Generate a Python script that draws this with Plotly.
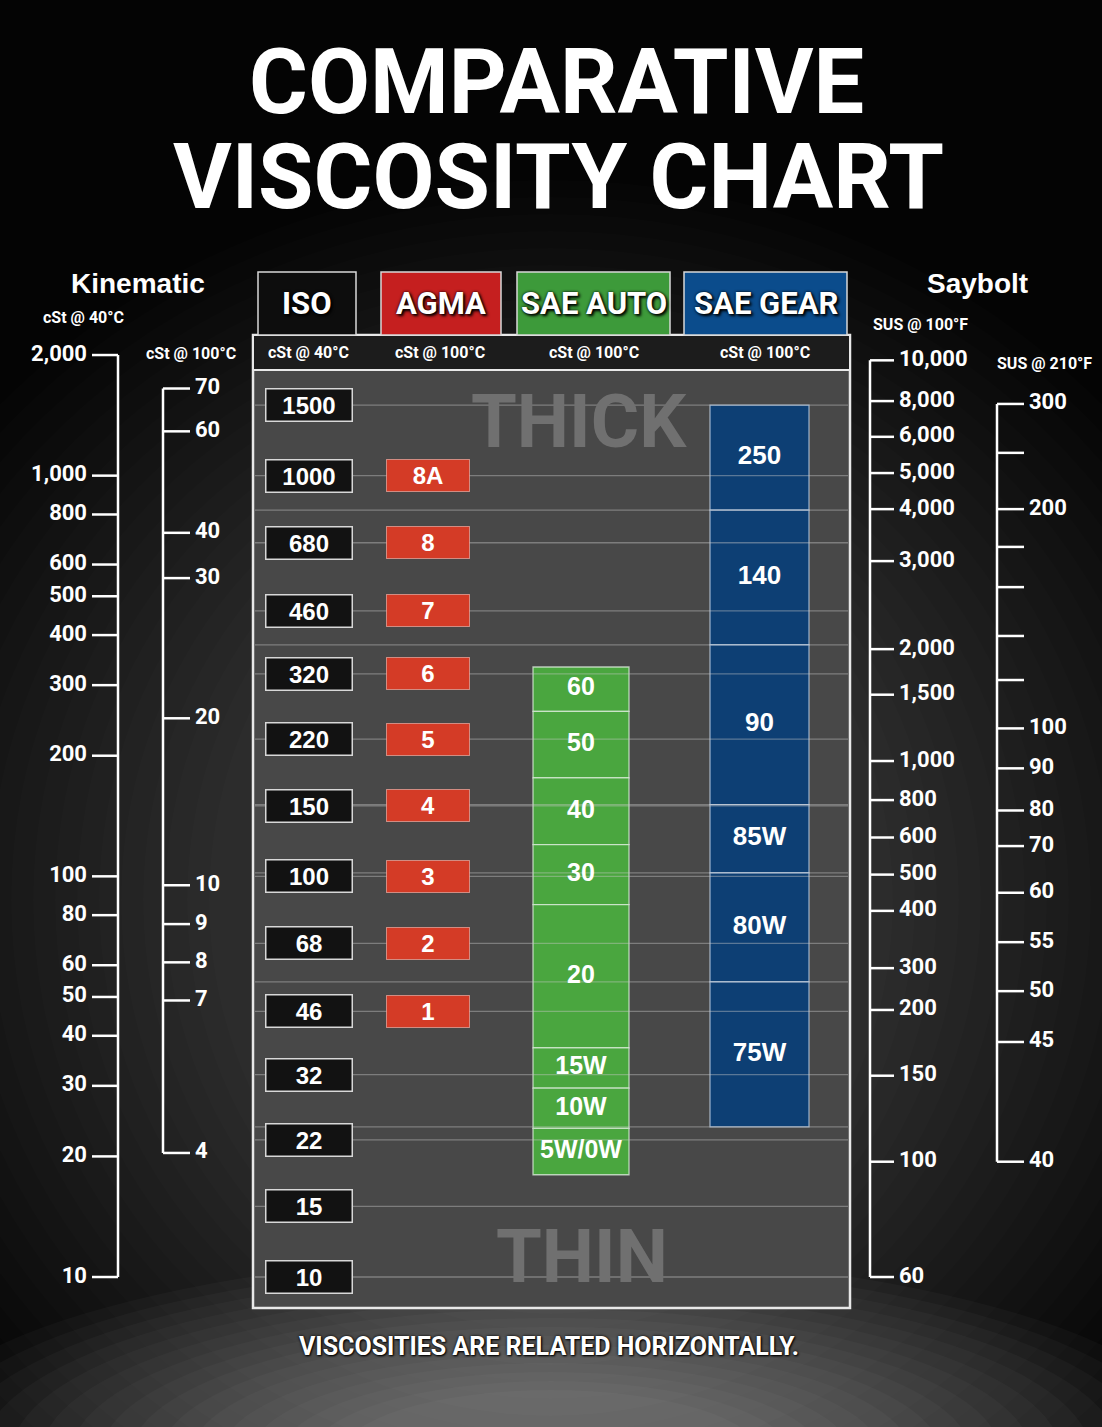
import numpy as np
import plotly.graph_objects as go

W, H = 1102, 1427

# ---------------- data ----------------
# ISO grades, cSt @ 40°C
iso_grades = [1500, 1000, 680, 460, 320, 220, 150, 100, 68, 46, 32, 22, 15, 10]

# AGMA grades and the ISO viscosity each is aligned with
agma_grades = ["8A", "8", "7", "6", "5", "4", "3", "2", "1"]
agma_iso_equiv = [1000, 680, 460, 320, 220, 150, 100, 68, 46]

# SAE engine (auto) grade ranges, as equivalent cSt @ 40°C
sae_auto_grades = ["60", "50", "40", "30", "20", "15W", "10W", "5W/0W"]
sae_auto_top = [333, 258, 176, 120, 85, 37.3, 29.6, 23.5]
sae_auto_bottom = [258, 176, 120, 85, 37.3, 29.6, 23.5, 18.0]

# SAE gear grade ranges, as equivalent cSt @ 40°C
sae_gear_grades = ["250", "140", "90", "85W", "80W", "75W"]
sae_gear_top = [1500, 820, 378, 151, 102, 54.5]
sae_gear_bottom = [820, 378, 151, 102, 54.5, 23.7]

# Kinematic scale cSt @ 40°C
kin40_ticks = [2000, 1000, 800, 600, 500, 400, 300, 200, 100, 80, 60, 50, 40, 30, 20, 10]
kin40_labels = ["2,000", "1,000", "800", "600", "500", "400", "300", "200",
                "100", "80", "60", "50", "40", "30", "20", "10"]

# Kinematic scale cSt @ 100°C (with equivalent cSt @ 40°C)
kin100_labels = ["70", "60", "40", "30", "20", "10", "9", "8", "7", "4"]
kin100_equiv = [1650, 1290, 720, 555, 248, 95, 76, 61, 49, 20.4]

# Saybolt SUS @ 100°F (with equivalent cSt @ 40°C)
sus100_labels = ["10,000", "8,000", "6,000", "5,000", "4,000", "3,000", "2,000", "1,500",
                 "1,000", "800", "600", "500", "400", "300", "200", "150", "100", "60"]
sus100_equiv = [1940, 1535, 1250, 1015, 825, 612, 369, 284, 194, 155, 125, 101, 82,
                59, 46.4, 31.8, 19.4, 10]

# Saybolt SUS @ 210°F (with equivalent cSt @ 40°C)
sus210_labels = ["300", "", "200", "", "", "", "", "100", "90", "80", "70", "60",
                 "55", "50", "45", "40"]
sus210_equiv = [1510, 1140, 825, 664, 527, 398, 309, 234, 186, 146, 119, 91, 68.5,
                51.7, 38.6, 19.4]

column_titles = ["ISO", "AGMA", "SAE AUTO", "SAE GEAR"]
column_units = ["cSt @ 40°C", "cSt @ 100°C", "cSt @ 100°C", "cSt @ 100°C"]

# ---------------- layout constants ----------------
COND = "Roboto, Liberation Sans, Arial, sans-serif"
SANS = "Liberation Sans, Arial, Helvetica, sans-serif"
LOG_LO, LOG_HI = 0.6257, 4.1871

ISO_X, AGMA_X, AUTO_X, GEAR_X = 309, 428, 581, 759.5
PANEL_L, PANEL_R, PANEL_T, PANEL_B = 253, 850, 335, 1308

HEAD_BOXES = [(258, 356, "#0d0d0d"), (381, 501, "#c51f1f"),
              (517, 670, "#3d9a3a"), (684, 847, "#0b4c8c")]
UNIT_X = [308, 440, 594, 765]


def py(p):
    return 1 - p / H


def label(x, y, text, family, size, color="white", shadow=None, xanchor="center"):
    f = dict(family=family, size=size, color=color, weight="bold")
    if shadow:
        f["shadow"] = shadow
    return dict(x=x, y=py(y), xref="x", yref="paper", text=text, showarrow=False,
                xanchor=xanchor, yanchor="middle", font=f)


fig = go.Figure()
shapes = []
annotations = []

# ---------------- background vignette ----------------
for i in range(20):
    hw = 760 - i * 22
    hh = 720 - i * 17
    shapes.append(dict(type="circle", xref="x", yref="paper", layer="below",
                       x0=551 - hw, x1=551 + hw, y0=py(900 + hh), y1=py(900 - hh),
                       fillcolor="rgba(255,255,255,0.010)", line=dict(width=0)))
for i in range(16):
    hw = 660 - i * 30
    hh = 200 - i * 9
    shapes.append(dict(type="circle", xref="x", yref="paper", layer="below",
                       x0=551 - hw, x1=551 + hw, y0=py(1455 + hh), y1=py(1455 - hh),
                       fillcolor="rgba(255,255,255,0.026)", line=dict(width=0)))

# ---------------- panel ----------------
shapes.append(dict(type="rect", xref="x", yref="paper", layer="below",
                   x0=PANEL_L, x1=PANEL_R, y0=py(PANEL_B), y1=py(PANEL_T),
                   fillcolor="#484848", line=dict(color="#e8e8e8", width=2.5)))
shapes.append(dict(type="rect", xref="x", yref="paper", layer="below",
                   x0=PANEL_L, x1=PANEL_R, y0=py(370), y1=py(PANEL_T),
                   fillcolor="#1c1c1c", line=dict(color="#e8e8e8", width=2)))
for (x0, x1, col) in HEAD_BOXES:
    shapes.append(dict(type="rect", xref="x", yref="paper", layer="below",
                       x0=x0, x1=x1, y0=py(335), y1=py(272),
                       fillcolor=col, line=dict(color="#d8d8d8", width=1.5)))

for (x0, x1, _), t in zip(HEAD_BOXES, column_titles):
    annotations.append(label((x0 + x1) / 2, 304, t, COND, 31,
                             shadow="0px 0px 3px #000, 2px 2px 3px #000"))
for x, t in zip(UNIT_X, column_units):
    annotations.append(label(x, 352, t, COND, 16))

# ---------------- guide lines in panel ----------------
guides = iso_grades + sae_gear_bottom
gx, gy = [], []
for v in guides:
    gx += [PANEL_L + 2, PANEL_R - 2, None]
    gy += [v, v, None]
fig.add_trace(go.Scatter(x=gx, y=gy, mode="lines", hoverinfo="skip",
                         line=dict(color="rgba(200,200,200,0.42)", width=1.3)))

# THICK / THIN
annotations.append(label(579, 421, "THICK", COND, 74, color="#707070"))
annotations.append(label(582, 1256, "THIN", COND, 74, color="#707070"))

# ---------------- SAE bands ----------------
fig.add_trace(go.Bar(x=[AUTO_X] * len(sae_auto_grades),
                     y=[t - b for t, b in zip(sae_auto_top, sae_auto_bottom)],
                     base=sae_auto_bottom, width=96, hoverinfo="skip",
                     marker=dict(color="#4aa63f", line=dict(color="rgba(225,240,225,0.75)", width=1.3))))
fig.add_trace(go.Bar(x=[GEAR_X] * len(sae_gear_grades),
                     y=[t - b for t, b in zip(sae_gear_top, sae_gear_bottom)],
                     base=sae_gear_bottom, width=99, hoverinfo="skip",
                     marker=dict(color="#0d3f74", line=dict(color="rgba(200,215,235,0.7)", width=1.3))))

fig.add_trace(go.Scatter(
    x=[AUTO_X] * len(sae_auto_grades),
    y=[np.sqrt(t * b) for t, b in zip(sae_auto_top, sae_auto_bottom)],
    mode="text", text=sae_auto_grades, hoverinfo="skip",
    textfont=dict(family=SANS, size=25, color="white", weight="bold")))
fig.add_trace(go.Scatter(
    x=[GEAR_X] * len(sae_gear_grades),
    y=[np.sqrt(t * b) for t, b in zip(sae_gear_top, sae_gear_bottom)],
    mode="text", text=sae_gear_grades, hoverinfo="skip",
    textfont=dict(family=SANS, size=26, color="white", weight="bold")))

# ---------------- ISO and AGMA boxes ----------------
for v in iso_grades:
    annotations.append(dict(x=ISO_X, y=np.log10(v), xref="x", yref="y", text=str(v),
                            showarrow=False, xanchor="center", yanchor="middle",
                            width=85, height=31, bgcolor="#121212",
                            bordercolor="#d8d8d8", borderwidth=1.5, borderpad=0,
                            font=dict(family=SANS, size=24, color="white", weight="bold")))
for g, v in zip(agma_grades, agma_iso_equiv):
    annotations.append(dict(x=AGMA_X, y=np.log10(v), xref="x", yref="y", text=g,
                            showarrow=False, xanchor="center", yanchor="middle",
                            width=82, height=31, bgcolor="#d43b26",
                            bordercolor="rgba(255,190,180,0.6)", borderwidth=1, borderpad=0,
                            font=dict(family=SANS, size=24, color="white", weight="bold")))


# ---------------- side scales ----------------
def add_scale(x_line, direction, values, labels, tick_len=26):
    fig.add_trace(go.Scatter(x=[x_line, x_line], y=[max(values), min(values)], mode="lines",
                             hoverinfo="skip", line=dict(color="white", width=2.5)))
    xs, ys = [], []
    for v in values:
        xs += [x_line, x_line + direction * tick_len, None]
        ys += [v, v, None]
    fig.add_trace(go.Scatter(x=xs, y=ys, mode="lines", hoverinfo="skip",
                             line=dict(color="white", width=2.5)))
    lx = x_line + direction * (tick_len + 5)
    fig.add_trace(go.Scatter(x=[lx] * len(values), y=values, mode="text", text=labels,
                             hoverinfo="skip",
                             textposition="middle left" if direction < 0 else "middle right",
                             textfont=dict(family=COND, size=22, color="white", weight="bold")))


add_scale(118, -1, kin40_ticks, kin40_labels)
add_scale(163, 1, kin100_equiv, kin100_labels, tick_len=27)
add_scale(870, 1, sus100_equiv, sus100_labels, tick_len=24)
add_scale(997, 1, sus210_equiv, sus210_labels, tick_len=27)

# scale headings
annotations.append(label(138, 283, "Kinematic", SANS, 28))
annotations.append(label(83, 318, "cSt @ 40°C", COND, 16))
annotations.append(label(191, 353, "cSt @ 100°C", COND, 16))
annotations.append(label(977, 283, "Saybolt", SANS, 28))
annotations.append(label(920, 325, "SUS @ 100°F", COND, 16))
annotations.append(label(1044, 363, "SUS @ 210°F", COND, 16))

# ---------------- title & footer ----------------
annotations.append(label(556, 82, "COMPARATIVE", COND, 90))
annotations.append(label(558, 177, "VISCOSITY CHART", COND, 90))
annotations.append(label(549, 1346, "VISCOSITIES ARE RELATED HORIZONTALLY.", COND, 25,
                         shadow="0px 0px 3px #000, 1px 1px 2px #000"))

fig.update_layout(
    width=W, height=H, margin=dict(l=0, r=0, t=0, b=0),
    paper_bgcolor="#040404", plot_bgcolor="rgba(0,0,0,0)",
    showlegend=False, barmode="overlay", hovermode=False,
    xaxis=dict(range=[0, W], visible=False, fixedrange=True),
    yaxis=dict(type="log", range=[LOG_LO, LOG_HI], visible=False, fixedrange=True),
    shapes=shapes, annotations=annotations,
)

fig.write_html("out.html", config={"displayModeBar": False},
               post_script="document.body.style.margin='0';")
